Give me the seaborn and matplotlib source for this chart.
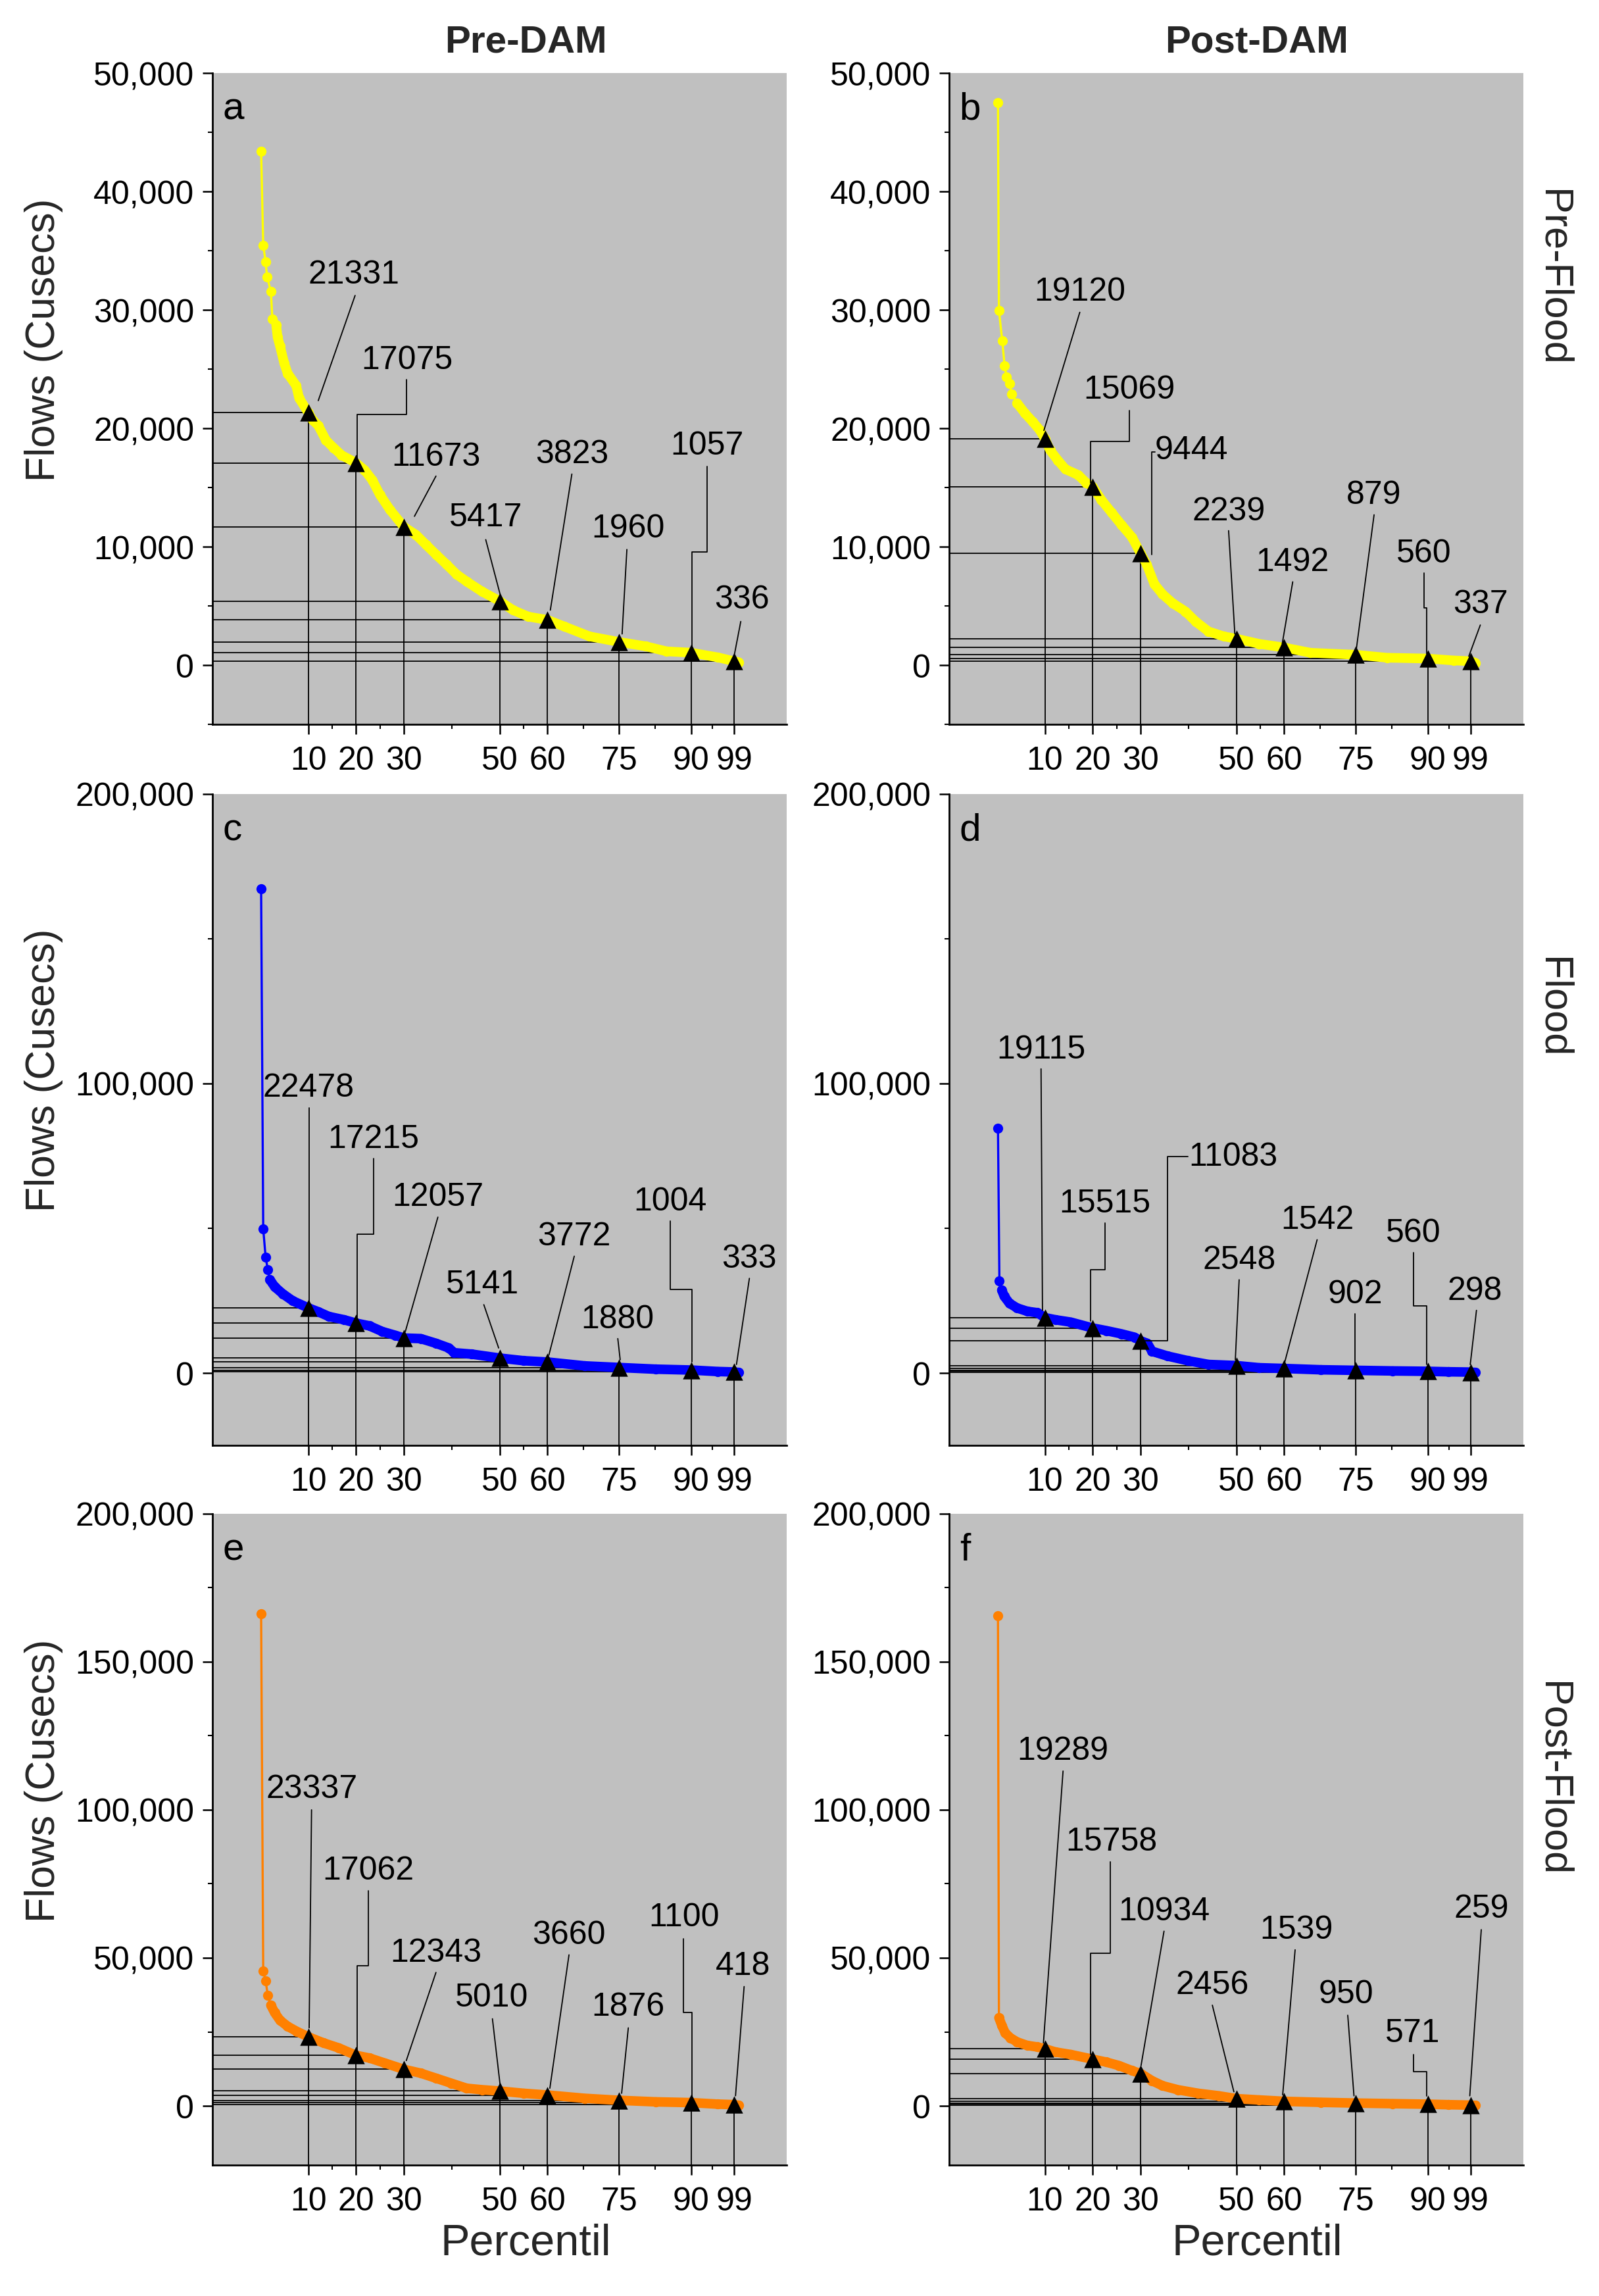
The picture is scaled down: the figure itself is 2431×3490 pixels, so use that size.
import matplotlib
matplotlib.use("Agg")
import matplotlib.pyplot as plt
from matplotlib.ticker import FuncFormatter, FixedLocator
import seaborn as sns

# ---------------- data ----------------
mark_pct = [10, 20, 30, 50, 60, 75, 90, 99]
minor_pct = [15, 25, 40, 55, 67.5, 82.5, 94.5]

# a: Pre-DAM / Pre-Flood
pct_a = [0.16, 0.6, 1.1, 1.4, 2.2, 2.5, 3.3, 3.6, 4.1, 5.0, 5.7, 7.5, 8.1, 10, 11, 12.1,
         13.7, 15.3, 17, 20, 21.8, 23.4, 25, 27.1, 30, 32.5, 34.6, 36.7, 38.9, 41, 43.2,
         46.4, 50, 52.8, 56, 60, 63.5, 68.8, 75, 80.6, 84.9, 90, 95.5, 99, 100]
flow_a = [43380, 35460, 34070, 32800, 31560, 29250, 28750, 27700, 26950, 25480, 24640,
          23600, 22550, 21331, 20660, 20240, 19000, 18360, 17730, 17075, 16470, 15630,
          14380, 13120, 11673, 11020, 10180, 9350, 8510, 7670, 7040, 6200, 5417, 4650,
          4100, 3823, 3270, 2430, 1960, 1590, 1170, 1057, 670, 336, 250]
mark_a = [21331, 17075, 11673, 5417, 3823, 1960, 1057, 336]

# b: Post-DAM / Pre-Flood
pct_b = [0.2, 0.4, 1.1, 1.6, 2.0, 2.6, 3.1, 4.2, 5.8, 7.4, 9, 10, 11.1, 12.7, 14.3, 17,
         18.6, 20, 21.8, 23.9, 26, 28.2, 30, 31.3, 32.9, 34.6, 36.7, 39.4, 41.5, 44.2,
         47.4, 50, 54.8, 60, 65.5, 75, 81.5, 90, 95.4, 99, 100]
flow_b = [47490, 29970, 27370, 25270, 24350, 23800, 22880, 22130, 21290, 20580, 19820,
          19120, 18150, 17310, 16550, 16050, 15420, 15069, 13960, 12910, 11860, 10810,
          9444, 8510, 6830, 5990, 5240, 4530, 3690, 2850, 2430, 2239, 1800, 1492, 1050,
          879, 630, 560, 400, 337, 200]
mark_b = [19120, 15069, 9444, 2239, 1492, 879, 560, 337]

# c: Pre-DAM / Flood
pct_c = [0.16, 0.6, 1.1, 1.55, 2, 3, 4.7, 6.8, 10, 12.1, 14.3, 17.5, 20, 22.8, 25.5,
         28.2, 30, 33.5, 36.7, 39.4, 40.5, 44.2, 50, 55, 60, 67.8, 75, 82.7, 90, 95.5,
         99, 100]
flow_c = [167150, 49760, 40000, 35770, 32200, 29760, 27320, 24880, 22478, 21140, 19510,
          18370, 17215, 16260, 14300, 13000, 12057, 11870, 10240, 8620, 6990, 6500,
          5141, 4230, 3772, 2440, 1880, 1300, 1004, 500, 333, 150]
mark_c = [22478, 17215, 12057, 5141, 3772, 1880, 1004, 333]

# d: Post-DAM / Flood
pct_d = [0.2, 0.5, 1, 1.5, 2.6, 4.2, 6.3, 8.4, 10, 12.2, 15.4, 20, 22.8, 26, 28.7, 30,
         31.4, 32.4, 35.6, 39.9, 44.2, 50, 54.8, 60, 67.6, 75, 82.6, 90, 94.3, 99, 100]
flow_d = [84550, 31700, 28620, 26500, 24070, 22440, 21300, 20810, 19115, 18370, 17560,
          15515, 14630, 13500, 12360, 11083, 10240, 7480, 5850, 4230, 2930, 2548, 1800,
          1542, 1100, 902, 700, 560, 400, 298, 150]
mark_d = [19115, 15515, 11083, 2548, 1542, 902, 560, 298]

# e: Pre-DAM / Post-Flood
pct_e = [0.16, 0.6, 1.1, 1.55, 2.2, 3, 4.1, 5.7, 7.6, 10, 13.2, 16.4, 20, 22.8, 26, 30,
         33.5, 36.7, 39.9, 43.1, 46.4, 50, 55, 60, 67.8, 75, 82.7, 90, 95.5, 99, 100]
flow_e = [166150, 45580, 42180, 37410, 34010, 31460, 28910, 26870, 25170, 23337, 21260,
          19560, 17062, 16160, 14460, 12343, 11050, 9350, 7650, 5950, 5440, 5010, 4250,
          3660, 2550, 1876, 1360, 1100, 600, 418, 200]
mark_e = [23337, 17062, 12343, 5010, 3660, 1876, 1100, 418]

# f: Post-DAM / Post-Flood
pct_f = [0.2, 0.4, 1, 1.7, 2.8, 4.2, 6.3, 8.4, 10, 12.2, 15.4, 20, 22.8, 25.5, 28.2, 30,
         32.4, 34.6, 37.8, 42, 46.3, 50, 54.8, 60, 67.6, 75, 82.6, 90, 94.3, 99, 100]
flow_f = [165650, 29760, 27210, 24660, 22960, 21600, 20410, 19900, 19289, 18200, 17350,
          15758, 14800, 13600, 11900, 10934, 8500, 6800, 5440, 4250, 3400, 2456, 2000,
          1539, 1200, 950, 750, 571, 400, 259, 150]
mark_f = [19289, 15758, 10934, 2456, 1539, 950, 571, 259]

col_titles = ["Pre-DAM", "Post-DAM"]
row_titles = ["Pre-Flood", "Flood", "Post-Flood"]
panel_letters = ["a", "b", "c", "d", "e", "f"]

# ---------------- annotation layout (label position, leader path) ----------------
ann_a = [(19.6, 33030, [(19.8, 31220), (12.1, 22340)]),
         (30.6, 25780, [(30.6, 24100), (30.6, 21165), (20.2, 21165), (20.2, 17310)]),
         (36.7, 17640, [(36.7, 15970), (32.2, 12570)]),
         (47.1, 12490, [(47.1, 10600), (50.1, 5990)]),
         (65.1, 17850, [(65.1, 16140), (60.6, 4650)]),
         (76.9, 11570, [(76.6, 9770), (75.6, 2640)]),
         (93.4, 18570, [(93.4, 16760), (93.4, 9560), (90.2, 9560), (90.2, 1380)]),
         (100.6, 5570, [(100.4, 3690), (99.1, 960)])]
ann_b = [(17.3, 31560, [(17.3, 29800), (9.8, 19820)]),
         (27.6, 23300, [(27.6, 21500), (27.6, 18900), (19.6, 18900), (19.6, 15420)]),
         (40.6, 18150, [(33.0, 18020), (32.4, 18020), (32.4, 9350)]),
         (48.4, 13030, [(48.4, 11360), (49.7, 2640)]),
         (61.8, 8720, [(61.8, 7040), (59.6, 1800)]),
         (78.8, 14380, [(78.8, 12700), (75.1, 1380)]),
         (89.2, 9470, [(89.2, 7800), (89.2, 4820), (89.8, 4820), (89.8, 960)]),
         (101.0, 5150, [(101.0, 3390), (98.6, 750)])]
ann_c = [(10.0, 98540, [(10.2, 91540), (10.2, 24070)]),
         (23.7, 80980, [(23.7, 74150), (23.7, 47970), (20.2, 47970), (20.2, 19190)]),
         (37.1, 60980, [(37.1, 53820), (30.3, 14310)]),
         (46.4, 30570, [(46.7, 23580), (49.8, 8620)]),
         (65.6, 47150, [(65.6, 40330), (60.3, 6180)]),
         (74.7, 18700, [(74.7, 11870), (75.2, 4550)]),
         (85.6, 59350, [(85.6, 52520), (85.6, 28940), (90.2, 28940), (90.2, 3740)]),
         (102.2, 39510, [(102.2, 32680), (99.5, 2930)])]
ann_d = [(9.2, 111870, [(9.2, 105040), (9.5, 21630)]),
         (22.6, 58540, [(22.6, 51710), (22.6, 35770), (19.6, 35770), (19.6, 17890)]),
         (49.4, 74800, [(39.9, 74800), (35.6, 74800), (35.6, 11060), (30.1, 11060)]),
         (50.6, 39020, [(50.6, 32200), (49.8, 4550)]),
         (66.9, 52850, [(66.9, 46020), (60.0, 2930)]),
         (74.8, 27320, [(74.8, 20330), (74.8, 2930)]),
         (87.0, 48460, [(87.0, 41460), (87.0, 23250), (89.8, 23250), (89.8, 2930)]),
         (99.8, 28460, [(100.2, 21630), (98.9, 2930)])]
ann_e = [(10.7, 107140, [(10.7, 100000), (10.2, 26360)]),
         (22.6, 79590, [(22.6, 72620), (22.6, 47280), (20.2, 47280), (20.2, 18710)]),
         (36.7, 51870, [(36.7, 45070), (30.5, 15310)]),
         (48.3, 36560, [(48.5, 29420), (50.1, 7140)]),
         (64.5, 57820, [(64.5, 51020), (60.5, 5950)]),
         (76.9, 33500, [(76.9, 26360), (75.5, 4250)]),
         (88.6, 63780, [(88.4, 56460), (88.4, 31460), (90.2, 31460), (90.2, 3400)]),
         (100.9, 47280, [(101.1, 40310), (99.3, 3400)])]
ann_f = [(13.8, 119900, [(13.8, 113090), (9.7, 21260)]),
         (23.9, 89290, [(23.7, 82480), (23.7, 51530), (19.6, 51530), (19.6, 17350)]),
         (34.9, 65820, [(34.9, 59010), (30.1, 13610)]),
         (45.0, 40820, [(45.0, 34010), (49.5, 4760)]),
         (62.5, 59520, [(62.3, 52720), (59.7, 3740)]),
         (73.0, 37760, [(73.3, 30610), (74.6, 3400)]),
         (86.8, 24660, [(87.0, 17350), (87.0, 11560), (89.8, 11560), (89.8, 3400)]),
         (101.2, 66670, [(101.2, 59520), (98.8, 3400)])]

# ---------------- style ----------------
sns.set_style("ticks")
plt.rcParams["font.family"] = ["Liberation Sans", "DejaVu Sans"]

TICK_FS = 36
ANN_FS = 36
YLABEL_FS = 45
XLABEL_FS = 48
ROW_FS = 44
TITLE_FS = 42
BG = "#C0C0C0"

fig = plt.figure(figsize=(24.31, 34.91), dpi=100)

col_left = [0.1329, 0.5936]
row_bottom = [0.6843, 0.3704, 0.0570]
ax_w, ax_h = 0.3591, 0.2836

panels = [
    (pct_a, flow_a, mark_a, ann_a, "#FFFF00", 6, (-5000, 50000), list(range(0, 50001, 10000)), list(range(-5000, 50001, 5000))),
    (pct_b, flow_b, mark_b, ann_b, "#FFFF00", 7, (-5000, 50000), list(range(0, 50001, 10000)), list(range(-5000, 50001, 5000))),
    (pct_c, flow_c, mark_c, ann_c, "#0000FF", 4, (-25000, 200000), [0, 100000, 200000], [50000, 150000]),
    (pct_d, flow_d, mark_d, ann_d, "#0000FF", 2, (-25000, 200000), [0, 100000, 200000], [50000, 150000]),
    (pct_e, flow_e, mark_e, ann_e, "#FF8000", 4, (-20000, 200000), list(range(0, 200001, 50000)), list(range(25000, 200000, 50000))),
    (pct_f, flow_f, mark_f, ann_f, "#FF8000", 1, (-20000, 200000), list(range(0, 200001, 50000)), list(range(25000, 200000, 50000))),
]

XLIM = (-10, 110)
fmt = FuncFormatter(lambda v, _: f"{int(round(v)):,}")

for i, (pct, flow, marks, anns, color, dense, ylim, ymaj, ymin_) in enumerate(panels):
    r, c = divmod(i, 2)
    ax = fig.add_axes([col_left[c], row_bottom[r], ax_w, ax_h])
    ax.set_facecolor(BG)
    ax.set_xlim(*XLIM)
    ax.set_ylim(*ylim)

    # guide lines
    ax.hlines(marks, XLIM[0], mark_pct, color="black", lw=1.3, zorder=3)
    ax.vlines(mark_pct, ylim[0], marks, color="black", lw=1.3, zorder=3)

    # the flow duration curve: thin line with dots, and thick band in the dense part
    sns.lineplot(x=pct, y=flow, ax=ax, color=color, lw=2.4, marker="o",
                 markersize=11, markeredgewidth=0, sort=False, estimator=None, zorder=4)
    sns.lineplot(x=pct[dense:], y=flow[dense:], ax=ax, color=color, lw=10.5,
                 sort=False, estimator=None, zorder=4,
                 solid_capstyle="round", solid_joinstyle="round")

    # triangle markers at the percentiles
    sns.scatterplot(x=mark_pct, y=marks, ax=ax, marker="^", s=19 ** 2,
                    color="black", edgecolor="black", linewidth=0, zorder=6)

    # labels with leader lines
    for (tx, ty, path), v in zip(anns, marks):
        ax.text(tx, ty, str(v), ha="center", va="center", fontsize=ANN_FS,
                color="black", zorder=6)
        xs = [p[0] for p in path]
        ys = [p[1] for p in path]
        ax.plot(xs, ys, color="black", lw=1.3, zorder=6)

    # axes cosmetics
    for s in ["top", "right"]:
        ax.spines[s].set_visible(False)
    for s in ["left", "bottom"]:
        ax.spines[s].set_linewidth(2.0)
        ax.spines[s].set_color("black")
    ax.xaxis.set_major_locator(FixedLocator(mark_pct))
    ax.xaxis.set_minor_locator(FixedLocator(minor_pct))
    ax.yaxis.set_major_locator(FixedLocator(ymaj))
    ax.yaxis.set_minor_locator(FixedLocator(ymin_))
    ax.yaxis.set_major_formatter(fmt)
    ax.set_xticklabels([str(p) for p in mark_pct])
    ax.tick_params(axis="both", which="major", direction="out", length=11, width=1.8,
                   labelsize=TICK_FS, colors="black")
    ax.tick_params(axis="both", which="minor", direction="out", length=5, width=1.5,
                   colors="black")
    ax.tick_params(axis="x", which="major", pad=12)
    ax.tick_params(axis="y", which="major", pad=9)
    ax.set_xlabel("")
    ax.set_ylabel("")
    ax.text(0.018, 0.972, panel_letters[i], transform=ax.transAxes, ha="left",
            va="top", fontsize=42, color="black", zorder=7)

# column titles
fig.text(799 / 2431, 1 - 64 / 3491, col_titles[0], ha="center", va="center",
         fontsize=TITLE_FS, fontweight="bold")
fig.text(1911 / 2431, 1 - 64 / 3491, col_titles[1], ha="center", va="center",
         fontsize=TITLE_FS, fontweight="bold")

# row titles on the right
for yc, t in zip([1 - 422 / 3491, 1 - 1532 / 3491, 1 - 2704 / 3491], row_titles):
    fig.text(2360 / 2431, yc, t, ha="center", va="center", rotation=270,
             fontsize=ROW_FS)

# y labels
for yc in [1 - 517 / 3491, 1 - 1627 / 3491, 1 - 2707 / 3491]:
    fig.text(67 / 2431, yc, "Flows (Cusecs)", ha="center", va="center",
             rotation=90, fontsize=YLABEL_FS)

# x labels
for xc in [799 / 2431, 1911 / 2431]:
    fig.text(xc, 1 - 3411 / 3491, "Percentil", ha="center", va="center",
             fontsize=XLABEL_FS)

fig.savefig("out.png", dpi=100, facecolor="white")
